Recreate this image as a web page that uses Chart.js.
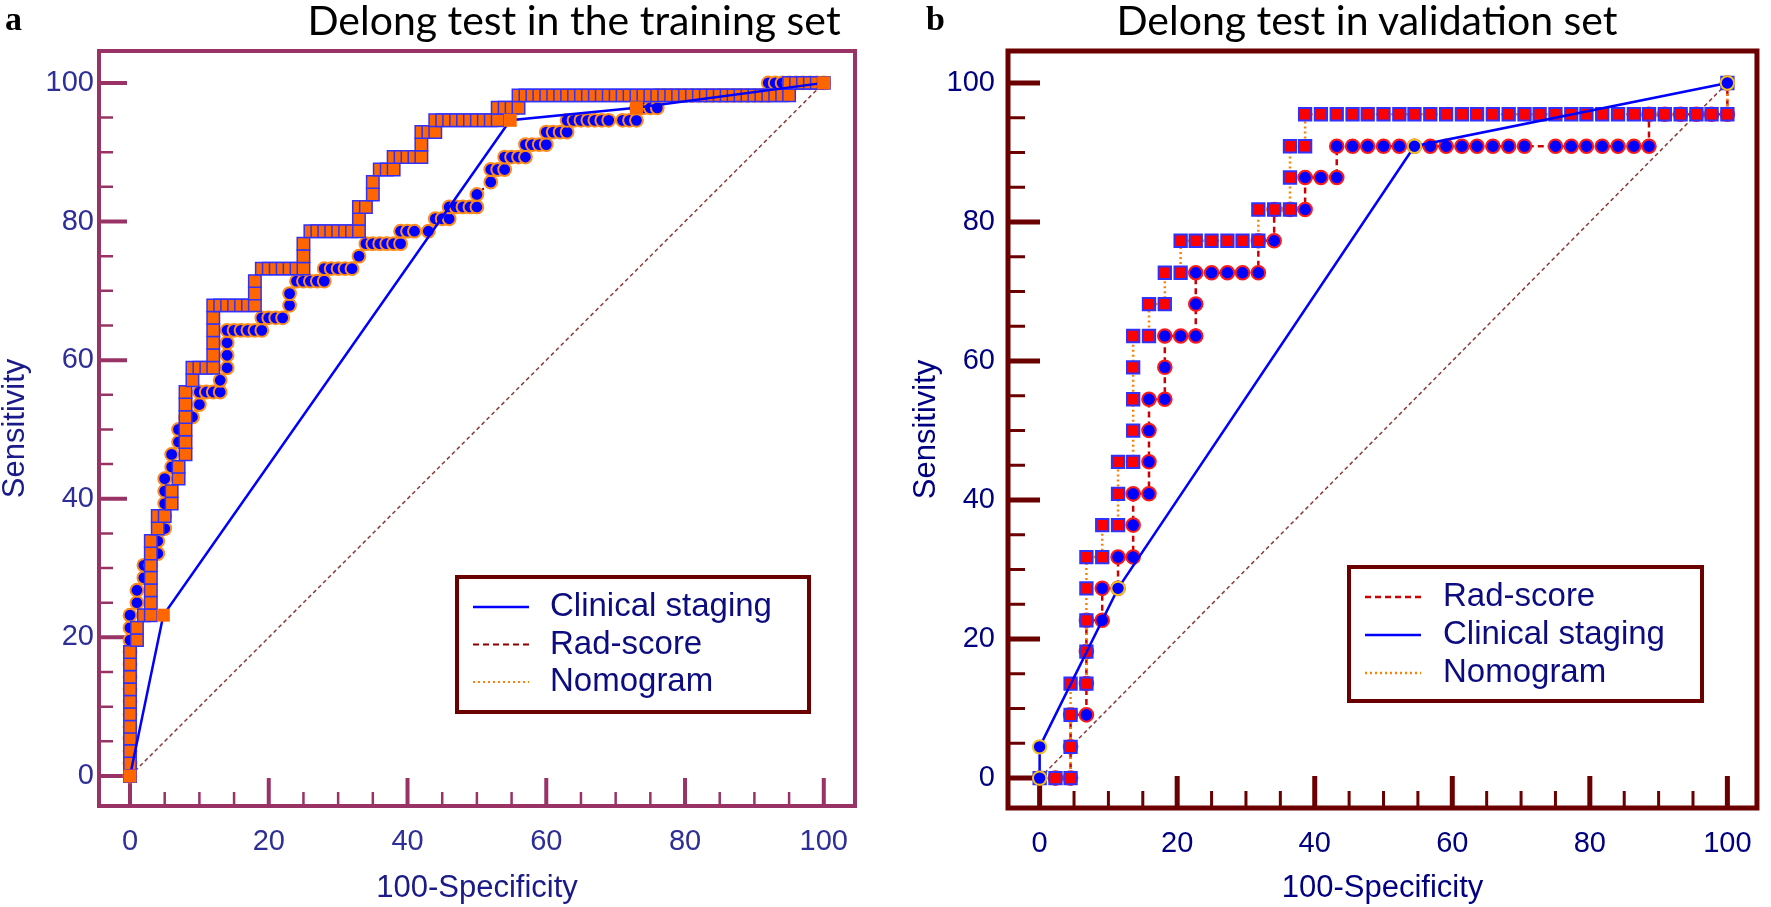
<!DOCTYPE html>
<html>
<head>
<meta charset="utf-8">
<script src="https://cdn.jsdelivr.net/npm/chart.js@4.4.1/dist/chart.umd.min.js"></script>
<style>
  body { margin: 0; background: #fff; width: 1771px; height: 907px; overflow: hidden; position: relative; }
  canvas { position: absolute; top: 0; }
  #cTrain { left: 0; }
  #cVal { left: 880px; }
  .tag { position: absolute; font-family: 'Liberation Serif', serif; font-weight: bold; font-size: 34px; color: #000; }
  .title { position: absolute; font-family: Lato, 'Open Sans', sans-serif; font-size: 41px; color: #000; white-space: nowrap; transform: translateX(-50%); }
</style>
</head>
<body>
<canvas id="cTrain" width="880" height="907"></canvas>
<canvas id="cVal" width="891" height="907"></canvas>
<div class="tag" style="left:5px;top:0px">a</div>
<div class="title" style="left:574px;top:-5px">Delong test in the training set</div>
<div class="tag" style="left:926px;top:0px">b</div>
<div class="title" style="left:1367px;top:-5px">Delong test in validation set</div>
<script>
// axis ticks
const tickValues = [0, 20, 40, 60, 80, 100];
const minorValues = [5, 10, 15, 25, 30, 35, 45, 50, 55, 65, 70, 75, 85, 90, 95];
const diagonal = [[0, 0], [100, 100]];

// training set: [100-Specificity, Sensitivity]
const trainClinical = [[0, 0], [4.8, 23.2], [54.8, 94.6], [73, 96.4], [100, 100]];

const trainRadScore = [
  [0, 0], [0, 1.8], [0, 3.6], [0, 5.4], [0, 7.1], [0, 8.9], [0, 10.7], [0, 12.5], [0, 14.3], [0, 16.1], [0, 17.9], [0, 19.6], [0, 21.4], [0, 23.2],
  [1, 25.0], [1, 26.8], [2, 28.6], [2, 30.4], [3, 30.4], [4, 32.1], [4, 33.9], [5, 35.7], [5, 37.5], [5, 39.3], [5, 41.1], [5, 42.9],
  [6, 44.6], [6, 46.4], [7, 48.2], [7, 50.0], [8, 51.8], [9, 51.8], [10, 53.6],
  [10, 55.4], [11, 55.4], [12, 55.4], [13, 55.4], [13, 57.1],
  [14, 58.9], [14, 60.7], [14, 62.5], [14, 64.3], [15, 64.3], [16, 64.3], [17, 64.3], [18, 64.3], [19, 64.3],
  [19, 66.1], [20, 66.1], [21, 66.1], [22, 66.1], [23, 67.9], [23, 69.6],
  [24, 71.4], [25, 71.4], [26, 71.4], [27, 71.4], [28, 71.4],
  [28, 73.2], [29, 73.2], [30, 73.2], [31, 73.2], [32, 73.2], [33, 75.0],
  [34, 76.8], [35, 76.8], [36, 76.8], [37, 76.8], [38, 76.8], [39, 76.8],
  [39, 78.6], [40, 78.6], [41, 78.6], [43, 78.6],
  [44, 80.4], [45, 80.4], [46, 80.4], [46, 82.1], [47, 82.1], [48, 82.1], [49, 82.1], [50, 82.1], [50, 83.9],
  [52, 85.7], [52, 87.5], [53, 87.5], [54, 87.5], [54, 89.3], [55, 89.3], [56, 89.3], [57, 89.3],
  [57, 91.1], [58, 91.1], [59, 91.1], [60, 91.1], [60, 92.9], [61, 92.9], [62, 92.9], [63, 92.9],
  [63, 94.6], [64, 94.6], [65, 94.6], [66, 94.6], [67, 94.6], [68, 94.6], [69, 94.6], [71, 94.6], [72, 94.6], [73, 94.6],
  [73, 96.4], [74, 96.4], [75, 96.4], [76, 96.4],
  [76, 98.2], [77, 98.2], [78, 98.2], [79, 98.2], [80, 98.2], [81, 98.2], [82, 98.2], [83, 98.2], [84, 98.2],
  [85, 98.2], [86, 98.2], [87, 98.2], [88, 98.2], [89, 98.2], [90, 98.2], [91, 98.2], [92, 98.2],
  [92, 100], [93, 100], [94, 100], [95, 100], [96, 100], [97, 100], [98, 100], [99, 100], [100, 100]
];

const trainNomogram = [
  [0, 0], [0, 1.8], [0, 3.6], [0, 5.4], [0, 7.1], [0, 8.9], [0, 10.7], [0, 12.5], [0, 14.3], [0, 16.1], [0, 17.9],
  [1, 19.6], [1, 21.4], [2, 23.2], [3, 23.2], [3, 25.0], [3, 26.8], [3, 28.6], [3, 30.4], [3, 32.1], [3, 33.9],
  [4, 35.7], [4, 37.5], [5, 37.5], [6, 39.3], [6, 41.1], [7, 42.9], [7, 44.6],
  [8, 46.4], [8, 48.2], [8, 50.0], [8, 51.8], [8, 53.6], [8, 55.4],
  [9, 57.1], [9, 58.9], [10, 58.9], [11, 58.9], [12, 58.9],
  [12, 60.7], [12, 62.5], [12, 64.3], [12, 66.1], [12, 67.9],
  [13, 67.9], [14, 67.9], [15, 67.9], [16, 67.9], [17, 67.9], [18, 67.9],
  [18, 69.6], [18, 71.4],
  [19, 73.2], [20, 73.2], [21, 73.2], [22, 73.2], [23, 73.2], [24, 73.2], [25, 73.2],
  [25, 75.0], [25, 76.8],
  [26, 78.6], [27, 78.6], [28, 78.6], [29, 78.6], [30, 78.6], [31, 78.6], [32, 78.6], [33, 78.6],
  [33, 80.4], [33, 82.1], [34, 82.1], [35, 83.9], [35, 85.7], [36, 87.5], [37, 87.5], [38, 87.5],
  [38, 89.3], [39, 89.3], [40, 89.3], [41, 89.3], [42, 89.3],
  [42, 91.1], [42, 92.9], [43, 92.9], [44, 92.9],
  [44, 94.6], [45, 94.6], [46, 94.6], [47, 94.6], [48, 94.6], [49, 94.6], [50, 94.6], [51, 94.6], [52, 94.6], [53, 94.6],
  [53, 96.4], [54, 96.4], [55, 96.4], [56, 96.4],
  [56, 98.2], [57, 98.2], [58, 98.2], [59, 98.2], [60, 98.2], [61, 98.2], [62, 98.2], [63, 98.2], [64, 98.2], [65, 98.2],
  [66, 98.2], [67, 98.2], [68, 98.2], [69, 98.2], [70, 98.2], [71, 98.2], [72, 98.2], [73, 98.2], [74, 98.2], [75, 98.2],
  [76, 98.2], [77, 98.2], [78, 98.2], [79, 98.2], [80, 98.2], [81, 98.2], [82, 98.2], [83, 98.2], [84, 98.2], [85, 98.2],
  [86, 98.2], [87, 98.2], [88, 98.2], [89, 98.2], [90, 98.2], [91, 98.2], [92, 98.2], [93, 98.2], [94, 98.2], [95, 98.2],
  [95, 100], [96, 100], [97, 100], [98, 100], [99, 100], [100, 100]
];

// validation set
const valClinical = [[0, 0], [0, 4.5], [11.4, 27.3], [54.5, 90.9], [100, 100]];

const valRadScore = [
  [0, 0], [2.3, 0], [4.5, 0], [4.5, 4.5], [4.5, 9.1], [6.8, 9.1], [6.8, 13.6], [6.8, 18.2], [6.8, 22.7],
  [9.1, 22.7], [9.1, 27.3], [11.4, 27.3], [11.4, 31.8], [13.6, 31.8], [13.6, 36.4], [13.6, 40.9],
  [15.9, 40.9], [15.9, 45.5], [15.9, 50], [15.9, 54.5], [18.2, 54.5], [18.2, 59.1], [18.2, 63.6],
  [20.5, 63.6], [22.7, 63.6], [22.7, 68.2], [22.7, 72.7], [25, 72.7], [27.3, 72.7], [29.5, 72.7], [31.8, 72.7],
  [31.8, 77.3], [34.1, 77.3], [34.1, 81.8], [36.4, 81.8], [38.6, 81.8], [38.6, 86.4], [40.9, 86.4], [43.2, 86.4],
  [43.2, 90.9], [45.5, 90.9], [47.7, 90.9], [50, 90.9], [52.3, 90.9], [54.5, 90.9], [56.8, 90.9], [59.1, 90.9],
  [61.4, 90.9], [63.6, 90.9], [65.9, 90.9], [68.2, 90.9], [70.5, 90.9], [75, 90.9], [77.3, 90.9], [79.5, 90.9],
  [81.8, 90.9], [84.1, 90.9], [86.4, 90.9], [88.6, 90.9],
  [88.6, 95.5], [90.9, 95.5], [93.2, 95.5], [95.5, 95.5], [97.7, 95.5], [100, 95.5], [100, 100]
];

const valNomogram = [
  [0, 0], [2.3, 0], [4.5, 0], [4.5, 4.5], [4.5, 9.1], [4.5, 13.6], [6.8, 13.6], [6.8, 18.2], [6.8, 22.7], [6.8, 27.3],
  [6.8, 31.8], [9.1, 31.8], [9.1, 36.4], [11.4, 36.4], [11.4, 40.9], [11.4, 45.5], [13.6, 45.5], [13.6, 50],
  [13.6, 54.5], [13.6, 59.1], [13.6, 63.6], [15.9, 63.6], [15.9, 68.2], [18.2, 68.2], [18.2, 72.7], [20.5, 72.7],
  [20.5, 77.3], [22.7, 77.3], [25, 77.3], [27.3, 77.3], [29.5, 77.3], [31.8, 77.3], [31.8, 81.8], [34.1, 81.8],
  [36.4, 81.8], [36.4, 86.4], [36.4, 90.9], [38.6, 90.9], [38.6, 95.5], [40.9, 95.5], [43.2, 95.5], [45.5, 95.5],
  [47.7, 95.5], [50, 95.5], [52.3, 95.5], [54.5, 95.5], [56.8, 95.5], [59.1, 95.5], [61.4, 95.5], [63.6, 95.5],
  [65.9, 95.5], [68.2, 95.5], [70.5, 95.5], [72.7, 95.5], [75, 95.5], [77.3, 95.5], [79.5, 95.5], [81.8, 95.5],
  [84.1, 95.5], [86.4, 95.5], [88.6, 95.5], [90.9, 95.5], [93.2, 95.5], [95.5, 95.5], [97.7, 95.5], [100, 95.5], [100, 100]
];

const trainLegend = ['Clinical staging', 'Rad-score', 'Nomogram'];
const valLegend = ['Rad-score', 'Clinical staging', 'Nomogram'];

const pts = arr => arr.map(([x, y]) => ({x, y}));

// box frame plus inward tick marks, drawn under the data
const framePlugin = {
  id: 'frame',
  beforeDatasetsDraw(chart, args, o) {
    const {ctx, chartArea: a, scales: {x, y}} = chart;
    ctx.save();
    ctx.strokeStyle = o.color;
    const marks = (vals, len, w) => {
      ctx.lineWidth = w;
      ctx.beginPath();
      vals.forEach(v => {
        const px = x.getPixelForValue(v);
        ctx.moveTo(px, a.bottom);
        ctx.lineTo(px, a.bottom - len);
        const py = y.getPixelForValue(v);
        ctx.moveTo(a.left, py);
        ctx.lineTo(a.left + len, py);
      });
      ctx.stroke();
    };
    marks(tickValues, o.major, o.majorWidth);
    marks(minorValues, o.minor, o.minorWidth);
    ctx.lineWidth = o.width;
    ctx.strokeRect(a.left, a.top, a.right - a.left, a.bottom - a.top);
    ctx.restore();
  }
};

const legendPlugin = {
  id: 'boxLegend',
  afterDraw(chart, args, o) {
    const {ctx} = chart;
    ctx.save();
    ctx.lineWidth = 4;
    ctx.strokeStyle = '#6b0000';
    ctx.strokeRect(o.left, o.top, o.width, o.height);
    ctx.font = '33px "Liberation Sans", Arial, sans-serif';
    ctx.textBaseline = 'middle';
    o.items.forEach((label, i) => {
      const ds = chart.data.datasets.find(d => d.label === label);
      const yy = o.top + o.firstRow + i * o.rowGap;
      ctx.strokeStyle = ds.borderColor;
      ctx.lineWidth = ds.borderWidth;
      ctx.setLineDash(ds.borderDash || []);
      ctx.beginPath();
      ctx.moveTo(o.left + 16, yy);
      ctx.lineTo(o.left + 72, yy);
      ctx.stroke();
      ctx.setLineDash([]);
      ctx.fillStyle = '#0c0c80';
      ctx.fillText(label, o.left + o.textX, yy);
    });
    ctx.restore();
  }
};

function axes(cfg) {
  const font = {family: 'Liberation Sans', size: 29};
  const titleFont = {family: 'Liberation Sans', size: 31, lineHeight: 1};
  return {
    x: {
      type: 'linear', min: cfg.xMin, max: cfg.xMax,
      grid: {display: false, drawTicks: false}, border: {display: false},
      afterBuildTicks: s => { s.ticks = tickValues.map(v => ({value: v})); },
      afterFit: s => { s.height = cfg.xHeight; },
      ticks: {color: cfg.labelColor, font, padding: 19, maxRotation: 0, autoSkip: false},
      title: {display: true, text: '100-Specificity', color: cfg.titleColor, font: titleFont, padding: {top: 0, bottom: 3}}
    },
    y: {
      type: 'linear', min: cfg.yMin, max: cfg.yMax,
      grid: {display: false, drawTicks: false}, border: {display: false},
      afterBuildTicks: s => { s.ticks = tickValues.map(v => ({value: v})); },
      afterFit: s => { s.width = cfg.yWidth; },
      ticks: {color: cfg.labelColor, font, padding: cfg.yPad},
      title: {display: true, text: 'Sensitivity', color: cfg.titleColor, font: titleFont, padding: {top: cfg.yTitlePad, bottom: 0}}
    }
  };
}

function line(label, data, extra) {
  return Object.assign({label, data: pts(data), showLine: true, fill: false, tension: 0}, extra);
}

new Chart(document.getElementById('cTrain'), {
  type: 'scatter',
  data: {
    datasets: [
      line('Clinical staging', trainClinical, {
        borderColor: '#0000ff', borderWidth: 2.5, pointStyle: 'rect', pointRadius: 9.2,
        pointBackgroundColor: '#ff6600', pointBorderColor: '#ff6600', pointBorderWidth: 0, order: 0
      }),
      line('Nomogram', trainNomogram, {
        borderColor: '#ff8000', borderWidth: 2, borderDash: [2, 3], pointStyle: 'rect', pointRadius: 8.8,
        pointBackgroundColor: '#ff6600', pointBorderColor: '#3030ff', pointBorderWidth: 1.5, order: 1
      }),
      line('Rad-score', trainRadScore, {
        borderColor: '#8b0000', borderWidth: 2, borderDash: [6, 4], pointStyle: 'circle', pointRadius: 6.4,
        pointBackgroundColor: '#0000ff', pointBorderColor: '#ff8c1a', pointBorderWidth: 2, order: 2
      }),
      line('Reference', diagonal, {
        borderColor: '#8b3a3a', borderWidth: 1.5, borderDash: [4, 3], pointRadius: 0, order: 3
      })
    ]
  },
  options: {
    responsive: false, animation: false, devicePixelRatio: 1, events: [],
    layout: {padding: {top: 51, right: 25, left: 0, bottom: 0}},
    scales: axes({xMin: -4.47, xMax: 104.5, yMin: -4.33, yMax: 104.6, xHeight: 101, yWidth: 99, yPad: 5, yTitlePad: 0,
                  labelColor: '#2e2e96', titleColor: '#1a1a88'}),
    plugins: {
      legend: {display: false}, tooltip: {enabled: false},
      frame: {color: '#993366', width: 4, major: 28, majorWidth: 4, minor: 14, minorWidth: 2.5},
      boxLegend: {left: 457, top: 577, width: 352, height: 135, firstRow: 30, rowGap: 37.5, textX: 93, items: trainLegend}
    }
  },
  plugins: [framePlugin, legendPlugin]
});

new Chart(document.getElementById('cVal'), {
  type: 'scatter',
  data: {
    datasets: [
      line('Clinical staging', valClinical, {
        borderColor: '#0000ff', borderWidth: 2.5, pointStyle: 'circle', pointRadius: 6.7,
        pointBackgroundColor: '#0000ff', pointBorderColor: '#f0c020', pointBorderWidth: 2, order: 0
      }),
      line('Nomogram', valNomogram, {
        borderColor: '#ff8000', borderWidth: 2.5, borderDash: [2, 3], pointStyle: 'rect', pointRadius: 8.7,
        pointBackgroundColor: '#ff0000', pointBorderColor: '#3030ff', pointBorderWidth: 2, order: 1
      }),
      line('Rad-score', valRadScore, {
        borderColor: '#cc0000', borderWidth: 2.5, borderDash: [6, 4], pointStyle: 'circle', pointRadius: 6.8,
        pointBackgroundColor: '#0000ff', pointBorderColor: '#ff1a1a', pointBorderWidth: 2, order: 2
      }),
      line('Reference', diagonal, {
        borderColor: '#8b3a3a', borderWidth: 1.5, borderDash: [4, 3], pointRadius: 0, order: 3
      })
    ]
  },
  options: {
    responsive: false, animation: false, devicePixelRatio: 1, events: [],
    layout: {padding: {top: 51, right: 6, left: 0, bottom: 0}},
    scales: axes({xMin: -4.6, xMax: 104.3, yMin: -4.3, yMax: 104.6, xHeight: 99, yWidth: 128, yPad: 13, yTitlePad: 31,
                  labelColor: '#000080', titleColor: '#000080'}),
    plugins: {
      legend: {display: false}, tooltip: {enabled: false},
      frame: {color: '#6b0000', width: 5, major: 32, majorWidth: 5, minor: 17, minorWidth: 3},
      boxLegend: {left: 469, top: 567, width: 353, height: 134, firstRow: 30, rowGap: 38, textX: 94, items: valLegend}
    }
  },
  plugins: [framePlugin, legendPlugin]
});
</script>
</body>
</html>
